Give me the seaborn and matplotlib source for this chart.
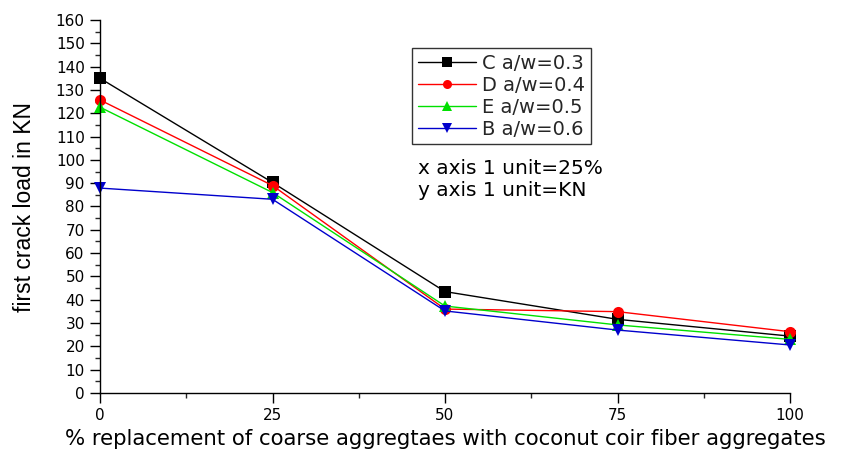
import matplotlib
matplotlib.use("Agg")
import matplotlib.pyplot as plt
import seaborn as sns
import pandas as pd
from matplotlib.ticker import MultipleLocator

x_vals = [0, 25, 50, 75, 100]
series_names = ["C a/w=0.3", "D a/w=0.4", "E a/w=0.5", "B a/w=0.6"]
c_vals = [135, 90.3, 43.5, 31.6, 24.4]
d_vals = [125.7, 89, 36, 34.9, 26.3]
e_vals = [122.6, 86, 37.3, 29.2, 23]
b_vals = [87.9, 83.1, 35.2, 27, 20.6]

xlabel = "% replacement of coarse aggregtaes with coconut coir fiber aggregates"
ylabel = "first crack load in KN"
note1 = "x axis 1 unit=25%"
note2 = "y axis 1 unit=KN"

rows = []
for name, vals in zip(series_names, [c_vals, d_vals, e_vals, b_vals]):
    for xv, yv in zip(x_vals, vals):
        rows.append({"x": xv, "y": yv, "series": name})
df = pd.DataFrame(rows)

sns.set_style("white")
plt.rcParams["font.family"] = ["DejaVu Sans"]

fig = plt.figure(figsize=(8.56, 4.53), dpi=100)
ax = fig.add_axes([100/856, 1-393/453, 690/856, 373/453])

palette = {"C a/w=0.3": "#000000", "D a/w=0.4": "#ff0000",
           "E a/w=0.5": "#00e000", "B a/w=0.6": "#0000cc"}
markers = {"C a/w=0.3": "s", "D a/w=0.4": "o", "E a/w=0.5": "^", "B a/w=0.6": "v"}

sns.lineplot(data=df, x="x", y="y", hue="series", style="series",
             hue_order=series_names, style_order=series_names,
             palette=palette, markers=markers, dashes=False,
             markersize=8, markeredgewidth=0, linewidth=1, ax=ax,
             clip_on=False, legend=True)

ax.set_xlim(0, 100)
ax.set_ylim(0, 160)
ax.set_xticks(x_vals)
ax.xaxis.set_minor_locator(MultipleLocator(12.5))
ax.yaxis.set_major_locator(MultipleLocator(10))
ax.yaxis.set_minor_locator(MultipleLocator(5))
for s in ["top", "right"]:
    ax.spines[s].set_visible(False)
for s in ["left", "bottom"]:
    ax.spines[s].set_color("black")
    ax.spines[s].set_linewidth(1)
ax.tick_params(axis="both", which="major", direction="out", length=7, width=1,
               labelsize=11, colors="black", left=True, bottom=True)
ax.tick_params(axis="both", which="minor", direction="out", length=3.5, width=1,
               left=True, bottom=True)
ax.tick_params(axis="x", pad=4)
ax.tick_params(axis="y", pad=4)
ax.set_xlabel(xlabel, fontsize=15.3, color="black", labelpad=4)
ax.set_ylabel(ylabel, fontsize=16.5, color="black", labelpad=14,
              family=["Liberation Sans Narrow", "Liberation Sans"])

handles, labels = ax.get_legend_handles_labels()
for h in handles:
    h.set_markersize(6.5)
leg = ax.legend(handles, labels, loc="upper left",
                bbox_to_anchor=(412/856, 1-48/453), bbox_transform=fig.transFigure,
                fontsize=14, frameon=True, fancybox=False, borderpad=0.3,
                labelspacing=0.15, handlelength=3.0, handletextpad=0.3,
                borderaxespad=0)
leg.get_frame().set_edgecolor("black")
leg.get_frame().set_linewidth(1)

fig.text(418/856, 1-168/453, note1, fontsize=14.5, color="black", va="center")
fig.text(418/856, 1-191/453, note2, fontsize=14.5, color="black", va="center")

fig.savefig("out.png", dpi=100)
